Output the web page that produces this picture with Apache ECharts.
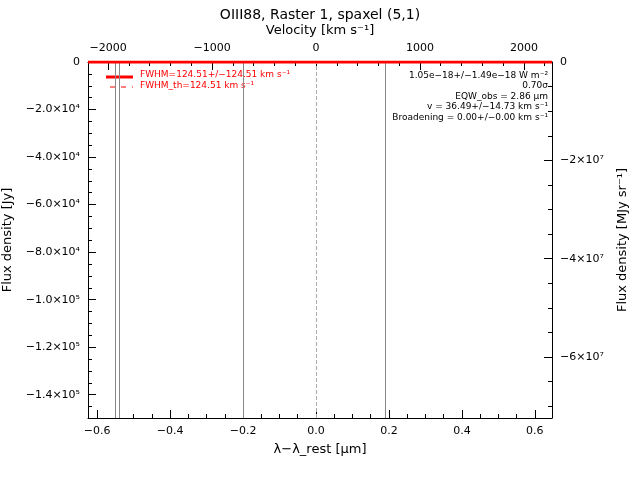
<!DOCTYPE html>
<html><head><meta charset="utf-8">
<script src="https://cdn.jsdelivr.net/npm/echarts@6/dist/echarts.min.js"></script>
<style>body{margin:0}#c{width:640px;height:480px}</style></head>
<body><div id="c"></div><script>
const xRange=[-0.625,0.647];
const velPerUm=3509;
const yRange=[-149800,0];
const y2Range=[-7.24e7,0];
const xTicks=[-0.6,-0.4,-0.2,0,0.2,0.4,0.6];
const velTicks=[-2000,-1000,0,1000,2000];
const yTicks=[0,-20000,-40000,-60000,-80000,-100000,-120000,-140000];
const y2Ticks=[0,-2e7,-4e7,-6e7];
const fitX=[-0.625,0.647];
const fitY=[0,0];
const grayLines=[-0.551,-0.541,-0.205,0.19];
const dashedLine=[0.003];
const annot=['1.05e−18+/−1.49e−18 W m⁻²','0.70σ','EQW_obs = 2.86 μm','v = 36.49+/−14.73 km s⁻¹','Broadening = 0.00+/−0.00 km s⁻¹'];
const sup={'-':'⁻','0':'⁰','1':'¹','2':'²','3':'³','4':'⁴','5':'⁵','6':'⁶','7':'⁷','8':'⁸','9':'⁹'};
function sci(v){ if(v===0) return '0'; const e=Math.floor(Math.log10(Math.abs(v))+1e-9); const m=v/Math.pow(10,e);
 return (m<0?'−':'')+Math.abs(m).toFixed(1)+'×10'+String(e).split('').map(c=>sup[c]).join('');}
function sci2(v){ if(v===0) return '0'; const e=Math.floor(Math.log10(Math.abs(v))+1e-9); const m=Math.round(v/Math.pow(10,e));
 return (m<0?'−':'')+Math.abs(m)+'×10'+String(e).split('').map(c=>sup[c]).join('');}
function minors(t,n,lo,hi){const s=(t[1]-t[0])/n;const out=[];const a=Math.min(lo,hi),b=Math.max(lo,hi);
 const st=Math.abs(s);for(let v=Math.ceil(a/st)*st;v<=b;v+=st){out.push(+v.toFixed(6));}return out;}
const lbl={color:'#000',fontFamily:'DejaVu Sans',fontSize:11};
const nts={color:'#000',fontFamily:'DejaVu Sans',fontSize:13};
function axis(o,ticks,fmt,extra){return Object.assign({type:'value',min:o.min,max:o.max,position:o.pos,
 axisLine:{onZero:false,lineStyle:{color:'#000'}},splitLine:{show:false},
 axisTick:{inside:true,length:8,customValues:ticks,lineStyle:{color:'#000'}},
 axisLabel:Object.assign({},lbl,{customValues:ticks,formatter:fmt})},extra||{});}
function minorAxis(o,vals){return {type:'value',min:o.min,max:o.max,position:o.pos,
 axisLine:{show:false,onZero:false},splitLine:{show:false},axisLabel:{show:false},
 axisTick:{inside:true,length:4,customValues:vals,lineStyle:{color:'#000'}}};}
const xb={min:xRange[0],max:xRange[1],pos:'bottom'}, xt={min:xRange[0]*velPerUm,max:xRange[1]*velPerUm,pos:'top'};
const yl={min:yRange[0],max:yRange[1],pos:'left'}, yr={min:y2Range[0],max:y2Range[1],pos:'right'};
const c=echarts.init(document.getElementById('c'));
c.setOption({
 animation:false,
 title:{text:'OIII88, Raster 1, spaxel (5,1)',left:'center',top:3,textStyle:{fontFamily:'DejaVu Sans',fontWeight:'normal',fontSize:14,color:'#000'}},
 grid:{left:88,right:88,top:62,bottom:62,containLabel:false,outerBoundsMode:'none'},
 xAxis:[
  axis(xb,xTicks,v=>Math.abs(v)<1e-9?'0.0':(v<0?'−':'')+Math.abs(v).toFixed(1),{name:'λ−λ_rest [μm]',nameLocation:'middle',nameGap:25,nameTextStyle:nts}),
  axis(xt,velTicks,v=>(v<0?'−':'')+Math.abs(v),{name:'Velocity [km s⁻¹]',nameLocation:'middle',nameGap:25,nameTextStyle:nts}),
  minorAxis(xb,minors(xTicks,4,xb.min,xb.max)),
  minorAxis(xt,minors(velTicks,5,xt.min,xt.max))
 ],
 yAxis:[
  axis(yl,yTicks,v=>sci(v),{name:'Flux density [Jy]',nameLocation:'middle',nameGap:74,nameTextStyle:nts}),
  axis(yr,y2Ticks,v=>sci2(v),{name:'Flux density [MJy sr⁻¹]',nameLocation:'middle',nameGap:64,nameRotate:90,nameTextStyle:nts}),
  minorAxis(yl,minors(yTicks,4,yl.min,yl.max)),
  minorAxis(yr,minors(y2Ticks,4,yr.min,yr.max))
 ],
 series:[
  {type:'line',xAxisIndex:0,yAxisIndex:0,data:fitX.map((x,i)=>[x,fitY[i]]),symbol:'none',lineStyle:{color:'#f00',width:3},z:5,
   markLine:{silent:true,symbol:'none',label:{show:false},lineStyle:{color:'#888',type:'solid',width:1},data:grayLines.map(x=>({xAxis:x}))}},
  {type:'line',xAxisIndex:0,yAxisIndex:0,data:[],
   markLine:{silent:true,symbol:'none',label:{show:false},lineStyle:{color:'#aaa',type:'dashed',width:1},data:dashedLine.map(x=>({xAxis:x}))}}
 ],
 graphic:[
  {type:'line',shape:{x1:106,y1:77,x2:133,y2:77},style:{stroke:'#f00',lineWidth:3}},
  {type:'line',shape:{x1:110,y1:87,x2:133,y2:87},style:{stroke:'#f00',lineWidth:1,lineDash:[5,6]}},
  {type:'text',left:140,top:70,style:{text:'FWHM=124.51+/−124.51 km s⁻¹',fill:'#f00',font:'9px DejaVu Sans'}},
  {type:'text',left:140,top:81,style:{text:'FWHM_th=124.51 km s⁻¹',fill:'#f00',font:'9px DejaVu Sans'}},
  {type:'text',x:548,y:70,style:{text:annot.join('\n'),fill:'#000',font:'9px DejaVu Sans',align:'right',lineHeight:10.5}}
 ]
});
</script></body></html>
